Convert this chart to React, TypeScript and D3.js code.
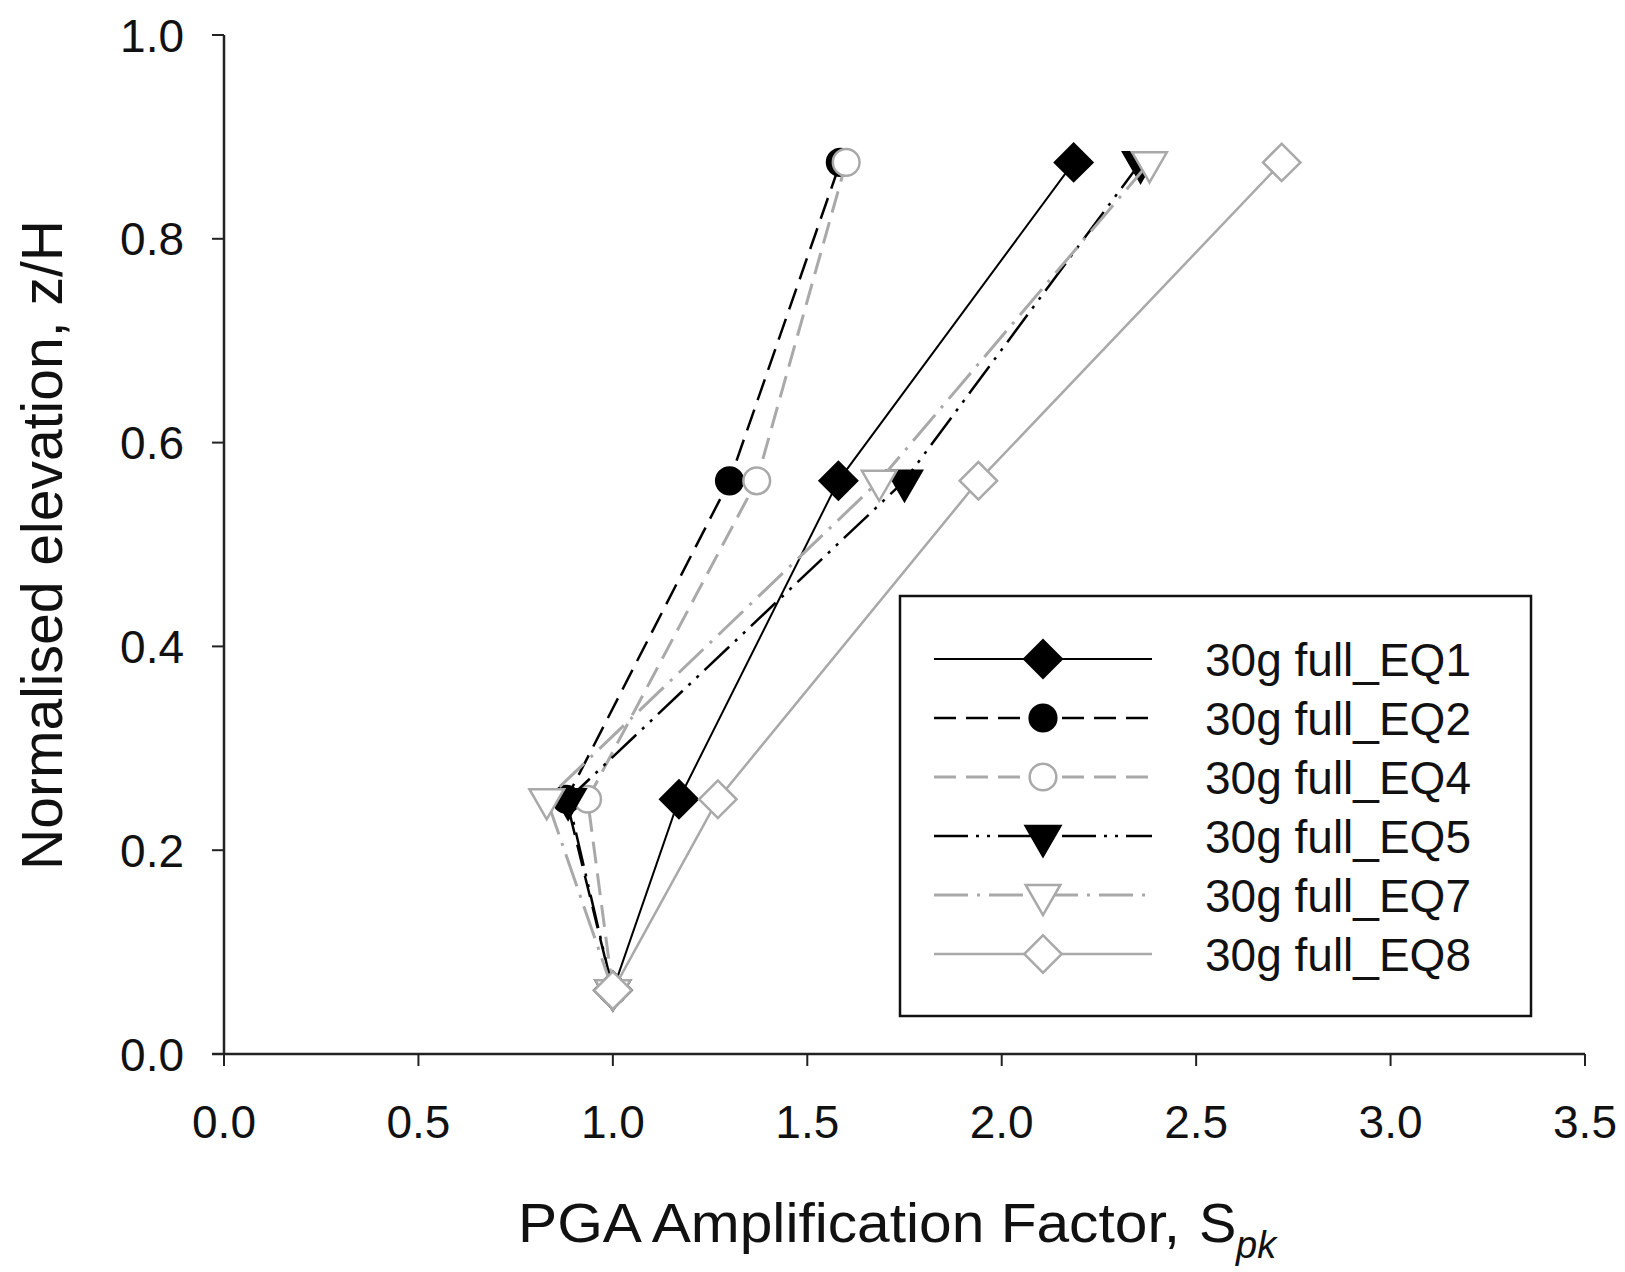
import React from "react";
import * as d3 from "d3";

const elevations = [0.0625, 0.25, 0.5625, 0.875];
const seriesNames = ["30g full_EQ1", "30g full_EQ2", "30g full_EQ4", "30g full_EQ5", "30g full_EQ7", "30g full_EQ8"];
const eq1 = [1.0, 1.17, 1.58, 2.185];
const eq2 = [1.0, 0.88, 1.3, 1.585];
const eq4 = [1.0, 0.935, 1.37, 1.6];
const eq5 = [1.0, 0.885, 1.75, 2.357];
const eq7 = [1.0, 0.83, 1.685, 2.38];
const eq8 = [1.0, 1.27, 1.94, 2.72];
const xTicks = [0, 0.5, 1, 1.5, 2, 2.5, 3, 3.5];
const yTicks = [0, 0.2, 0.4, 0.6, 0.8, 1.0];

const GREY = "#a9a9a9";
type Style = { color: string; dash: string; width: number; marker: string; fill: string };
const styles: Style[] = [
  { color: "#000", dash: "", width: 2, marker: "diamond", fill: "#000" },
  { color: "#000", dash: "22,10", width: 2.5, marker: "circle", fill: "#000" },
  { color: GREY, dash: "22,10", width: 3, marker: "circle", fill: "#fff" },
  { color: "#000", dash: "34,8,3,8,3,8", width: 2.5, marker: "tri", fill: "#000" },
  { color: GREY, dash: "34,9,3,9", width: 3, marker: "tri", fill: "#fff" },
  { color: GREY, dash: "", width: 2.5, marker: "diamond", fill: "#fff" },
];
const allSeries = [eq1, eq2, eq4, eq5, eq7, eq8];

const FONT = "'Liberation Sans', Arial, sans-serif";

function markerPath(kind: string): string {
  if (kind === "diamond") return d3.symbol().type(d3.symbolSquare).size(700)()!;
  if (kind === "circle") return d3.symbol().type(d3.symbolCircle).size(560)()!;
  return d3.symbol().type(d3.symbolTriangle).size(520)()!;
}
function markerTransform(kind: string, x: number, y: number) {
  if (kind === "diamond") return `translate(${x},${y}) rotate(45)`;
  if (kind === "tri") return `translate(${x},${y}) rotate(180)`;
  return `translate(${x},${y})`;
}

export default function App() {
  const W = 1625, H = 1272;
  const x = d3.scaleLinear().domain([0, 3.5]).range([224, 1585]);
  const y = d3.scaleLinear().domain([0, 1]).range([1054, 35]);
  const line = d3.line<[number, number]>().x((d) => x(d[0])).y((d) => y(d[1]));
  const fmt = d3.format(".1f");

  const legX = 900, legY = 596, legW = 631, legH = 420;
  const rowY0 = 659, rowStep = 59;

  return (
    <svg width={W} height={H} style={{ position: "absolute", left: 0, top: 0, background: "#fff" }} fontFamily={FONT}>
      <rect x={0} y={0} width={W} height={H} fill="#fff" />
      {/* axes */}
      <line x1={x(0)} x2={x(0)} y1={y(1)} y2={y(0)} stroke="#222" strokeWidth={2.5} />
      <line x1={x(0) - 12} x2={x(3.5)} y1={y(0)} y2={y(0)} stroke="#222" strokeWidth={2.5} />
      {yTicks.map((t) => (
        <g key={"y" + t}>
          <line x1={x(0) - 12} x2={x(0)} y1={y(t)} y2={y(t)} stroke="#222" strokeWidth={2} />
          <text x={184} y={y(t)} dy="0.36em" textAnchor="end" fontSize={46} fill="#111">{fmt(t)}</text>
        </g>
      ))}
      {xTicks.map((t) => (
        <g key={"x" + t}>
          <line x1={x(t)} x2={x(t)} y1={y(0)} y2={y(0) + 12} stroke="#222" strokeWidth={2} />
          <text x={x(t)} y={1138} textAnchor="middle" fontSize={46} fill="#111">{fmt(t)}</text>
        </g>
      ))}
      <text transform="translate(62,545) rotate(-90)" textAnchor="middle" fontSize={57} fill="#111"
        textLength={650} lengthAdjust="spacingAndGlyphs">Normalised elevation, z/H</text>
      <text x={518} y={1242} fontSize={56} fill="#111" textLength={662} lengthAdjust="spacingAndGlyphs">
        PGA Amplification Factor,
      </text>
      <text x={1199} y={1242} fontSize={56} fill="#111">S</text>
      <text x={1236} y={1258} fontSize={38} fontStyle="italic" fill="#111">pk</text>

      {/* series */}
      {allSeries.map((vals, i) => {
        const s = styles[i];
        const pts: [number, number][] = vals.map((v, j) => [v, elevations[j]]);
        return (
          <g key={"s" + i}>
            <path d={line(pts)!} fill="none" stroke={s.color} strokeWidth={s.width} strokeDasharray={s.dash} />
            {pts.map((p, j) => (
              <path key={j} d={markerPath(s.marker)} transform={markerTransform(s.marker, x(p[0]), y(p[1]))}
                fill={s.fill} stroke={s.color} strokeWidth={2.5} />
            ))}
          </g>
        );
      })}

      {/* legend */}
      <rect x={legX} y={legY} width={legW} height={legH} fill="#fff" stroke="#111" strokeWidth={2.5} />
      {seriesNames.map((name, i) => {
        const s = styles[i];
        const ry = rowY0 + i * rowStep;
        return (
          <g key={"l" + i}>
            <line x1={934} x2={1152} y1={ry} y2={ry} stroke={s.color} strokeWidth={s.width} strokeDasharray={s.dash} />
            <path d={markerPath(s.marker)} transform={markerTransform(s.marker, 1043, ry)} fill={s.fill} stroke={s.color} strokeWidth={2.5} />
            <text x={1205} y={ry} dy="0.36em" fontSize={46} fill="#111">{name}</text>
          </g>
        );
      })}
    </svg>
  );
}
